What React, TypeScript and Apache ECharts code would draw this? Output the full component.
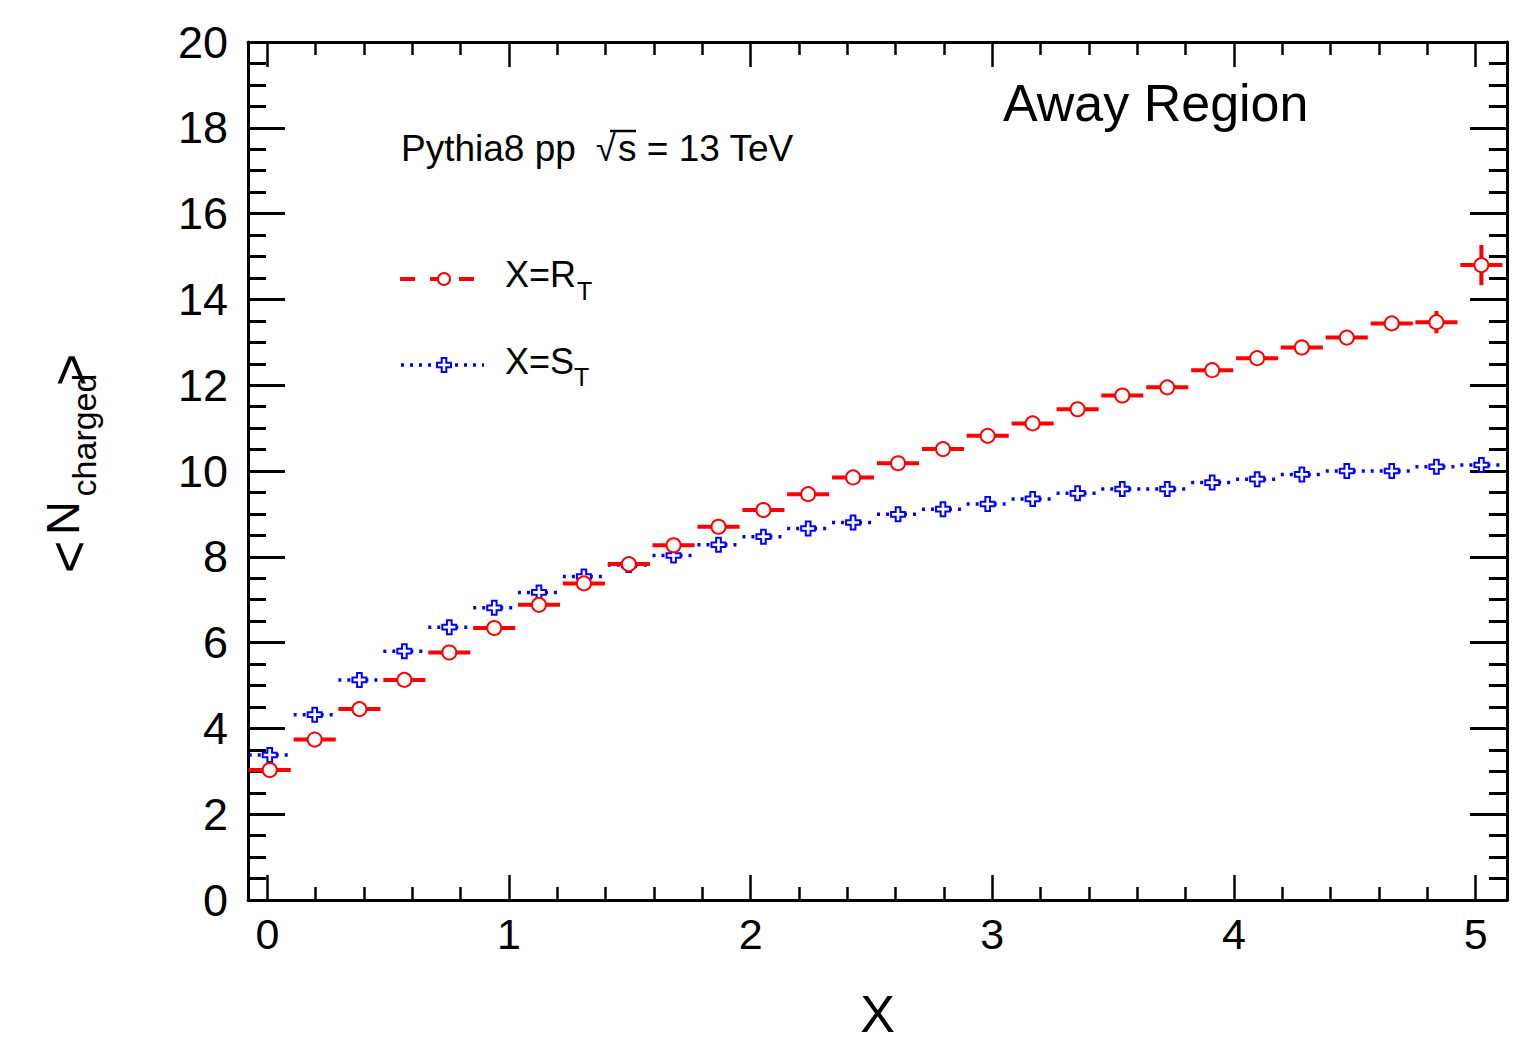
import React, { useEffect, useRef } from "react";
import * as echarts from "echarts";

// ---- data ----
const binCenters = [
  0.010, 0.196, 0.381, 0.567, 0.753, 0.939, 1.124, 1.310, 1.496, 1.681,
  1.867, 2.053, 2.238, 2.424, 2.610, 2.796, 2.981, 3.167, 3.353, 3.538,
  3.724, 3.910, 4.096, 4.281, 4.467, 4.653, 4.838, 5.024,
];
const binHalfWidth = 0.087;
const rtValues = [
  3.03, 3.74, 4.45, 5.13, 5.77, 6.34, 6.88, 7.38, 7.83, 8.27,
  8.70, 9.09, 9.46, 9.85, 10.18, 10.51, 10.82, 11.11, 11.44, 11.76,
  11.95, 12.35, 12.63, 12.88, 13.11, 13.44, 13.47, 14.80,
];
const rtErrors = [
  0.02, 0.02, 0.02, 0.02, 0.02, 0.02, 0.02, 0.02, 0.02, 0.02,
  0.03, 0.03, 0.03, 0.03, 0.03, 0.04, 0.04, 0.04, 0.05, 0.05,
  0.05, 0.06, 0.06, 0.07, 0.08, 0.13, 0.26, 0.47,
];
const stValues = [
  3.38, 4.32, 5.13, 5.80, 6.36, 6.81, 7.17, 7.54, 7.81, 8.03,
  8.28, 8.47, 8.66, 8.80, 8.99, 9.11, 9.23, 9.35, 9.48, 9.58,
  9.58, 9.73, 9.81, 9.92, 10.00, 10.00, 10.10, 10.14,
];
const stErrors = [
  0.01, 0.01, 0.01, 0.01, 0.01, 0.01, 0.01, 0.01, 0.01, 0.01,
  0.01, 0.01, 0.01, 0.01, 0.01, 0.01, 0.01, 0.01, 0.01, 0.01,
  0.01, 0.02, 0.02, 0.02, 0.02, 0.02, 0.03, 0.04,
];
const xMajorTicks = [0, 1, 2, 3, 4, 5];
const xMinorTicks = [
  0.2, 0.4, 0.6, 0.8, 1.2, 1.4, 1.6, 1.8, 2.2, 2.4, 2.6, 2.8,
  3.2, 3.4, 3.6, 3.8, 4.2, 4.4, 4.6, 4.8,
];
const X_MIN = -0.08;
const X_MAX = 5.13;
const Y_MIN = 0;
const Y_MAX = 20;

const FONT = "Liberation Sans, Arial, Helvetica, sans-serif";
const RED = "#ff0000";
const BLUE = "#0000ff";
const CROSS = "path://M4,0 H8 V4 H12 V8 H8 V12 H4 V8 H0 V4 H4 Z";

function errBarSeries(name: string, xs: number[], ys: number[], es: number[], color: string, dash: any, width: number) {
  return {
    type: "custom",
    name,
    clip: true,
    z: 2,
    data: xs.map((x, i) => [x, ys[i], es[i]]),
    renderItem: (params: any, api: any) => {
      const x = api.value(0);
      const y = api.value(1);
      const e = api.value(2);
      const a = api.coord([x - binHalfWidth, y]);
      const b = api.coord([x + binHalfWidth, y]);
      const t = api.coord([x, y + e]);
      const bt = api.coord([x, y - e]);
      return {
        type: "group",
        children: [
          {
            type: "line",
            shape: { x1: a[0], y1: a[1], x2: b[0], y2: b[1] },
            style: { stroke: color, lineWidth: width, lineDash: dash },
          },
          {
            type: "line",
            shape: { x1: t[0], y1: t[1], x2: bt[0], y2: bt[1] },
            style: { stroke: color, lineWidth: 4 },
          },
        ],
      };
    },
  };
}

function xAxisDef(position: string, values: number[], len: number, showLine: boolean, showLabel: boolean, name?: string) {
  return {
    type: "value",
    position,
    min: X_MIN,
    max: X_MAX,
    name: name || "",
    nameLocation: "middle",
    nameGap: 88,
    nameTextStyle: { fontFamily: FONT, fontSize: 52, color: "#000" },
    axisLine: { show: showLine, onZero: false, lineStyle: { color: "#000", width: 3 } },
    axisTick: { show: true, inside: true, length: len, customValues: values, lineStyle: { color: "#000", width: 2.5 } },
    axisLabel: {
      show: showLabel,
      customValues: values,
      fontFamily: FONT,
      fontSize: 43,
      color: "#000",
      margin: 12,
    },
    splitLine: { show: false },
    minorTick: { show: false },
  };
}

function yAxisDef(position: string, showLabel: boolean) {
  return {
    type: "value",
    position,
    min: Y_MIN,
    max: Y_MAX,
    interval: 2,
    axisLine: { show: true, onZero: false, lineStyle: { color: "#000", width: 3 } },
    axisTick: { show: true, inside: true, length: 37, lineStyle: { color: "#000", width: 3 } },
    minorTick: { show: true, splitNumber: 4, length: 18, lineStyle: { color: "#000", width: 3 } },
    axisLabel: { show: showLabel, fontFamily: FONT, fontSize: 45, color: "#000", margin: 20 },
    splitLine: { show: false },
    minorSplitLine: { show: false },
  };
}

export default function App() {
  const ref = useRef<HTMLDivElement>(null);
  useEffect(() => {
    if (!ref.current) return;
    const chart = echarts.init(ref.current, null, { renderer: "svg" });
    const option: any = {
      animation: false,
      backgroundColor: "#fff",
      grid: { left: 248, top: 42, width: 1259, height: 858, containLabel: false },
      xAxis: [
        xAxisDef("bottom", xMajorTicks, 25, true, true, "X"),
        xAxisDef("bottom", xMinorTicks, 13, false, false),
        xAxisDef("top", xMajorTicks, 25, true, false),
        xAxisDef("top", xMinorTicks, 13, false, false),
      ],
      yAxis: [yAxisDef("left", true), yAxisDef("right", false)],
      series: [
        errBarSeries("stbars", binCenters, stValues, stErrors, BLUE, [3, 6], 3.5),
        errBarSeries("rtbars", binCenters, rtValues, rtErrors, RED, null, 4),
        {
          type: "scatter",
          name: "X=S_T",
          z: 3,
          symbol: CROSS,
          symbolSize: 14,
          itemStyle: { color: "#fff", borderColor: BLUE, borderWidth: 2, opacity: 1 },
          data: binCenters.map((x, i) => [x, stValues[i]]),
        },
        {
          type: "scatter",
          name: "X=R_T",
          z: 4,
          symbol: "circle",
          symbolSize: 14,
          itemStyle: { color: "#fff", borderColor: RED, borderWidth: 2, opacity: 1 },
          data: binCenters.map((x, i) => [x, rtValues[i]]),
        },
      ],
      graphic: [
        // annotations
        { type: "text", x: 1003, y: 103, style: { text: "Away Region", fontFamily: FONT, fontSize: 52, fill: "#000", textAlign: "left", textVerticalAlign: "middle" } },
        { type: "text", x: 401, y: 148, style: { text: "Pythia8 pp", fontFamily: FONT, fontSize: 37, fill: "#000", textAlign: "left", textVerticalAlign: "middle" } },
        { type: "text", x: 596, y: 148, style: { text: "\u221A", fontFamily: FONT, fontSize: 36, fill: "#000", textAlign: "left", textVerticalAlign: "middle" } },
        { type: "line", shape: { x1: 610, y1: 131, x2: 636, y2: 131 }, style: { stroke: "#000", lineWidth: 2.5 } },
        { type: "text", x: 618, y: 148, style: { text: "s = 13 TeV", fontFamily: FONT, fontSize: 37, fill: "#000", textAlign: "left", textVerticalAlign: "middle" } },
        // legend: R_T
        { type: "line", shape: { x1: 400, y1: 279, x2: 415, y2: 279 }, style: { stroke: RED, lineWidth: 4 } },
        { type: "line", shape: { x1: 430, y1: 279, x2: 444, y2: 279 }, style: { stroke: RED, lineWidth: 4 } },
        { type: "line", shape: { x1: 459, y1: 279, x2: 474, y2: 279 }, style: { stroke: RED, lineWidth: 4 } },
        { type: "circle", shape: { cx: 444, cy: 279, r: 6 }, style: { fill: "#fff", stroke: RED, lineWidth: 2 } },
        { type: "text", x: 505, y: 274, style: { text: "X=R", fontFamily: FONT, fontSize: 36, fill: "#000", textAlign: "left", textVerticalAlign: "middle" } },
        { type: "text", x: 577, y: 291, style: { text: "T", fontFamily: FONT, fontSize: 25, fill: "#000", textAlign: "left", textVerticalAlign: "middle" } },
        // legend: S_T
        { type: "line", shape: { x1: 401, y1: 365, x2: 484, y2: 365 }, style: { stroke: BLUE, lineWidth: 3.5, lineDash: [3, 6] } },
        {
          type: "polygon",
          shape: {
            points: [
              [441.7, 358], [446.3, 358], [446.3, 362.7], [451, 362.7], [451, 367.3], [446.3, 367.3],
              [446.3, 372], [441.7, 372], [441.7, 367.3], [437, 367.3], [437, 362.7], [441.7, 362.7],
            ],
          },
          style: { fill: "#fff", stroke: BLUE, lineWidth: 2 },
        },
        { type: "text", x: 505, y: 361, style: { text: "X=S", fontFamily: FONT, fontSize: 36, fill: "#000", textAlign: "left", textVerticalAlign: "middle" } },
        { type: "text", x: 574, y: 377, style: { text: "T", fontFamily: FONT, fontSize: 25, fill: "#000", textAlign: "left", textVerticalAlign: "middle" } },
        // y axis title <N_charged>
        { type: "text", x: 68, y: 557, rotation: Math.PI / 2, style: { text: "<", fontFamily: FONT, fontSize: 56, fill: "#000", textAlign: "center", textVerticalAlign: "middle" } },
        { type: "text", x: 62, y: 518, rotation: Math.PI / 2, style: { text: "N", fontFamily: FONT, fontSize: 47, fill: "#000", textAlign: "center", textVerticalAlign: "middle" } },
        { type: "text", x: 84, y: 435, rotation: Math.PI / 2, style: { text: "charged", fontFamily: FONT, fontSize: 34, fill: "#000", textAlign: "center", textVerticalAlign: "middle" } },
        { type: "text", x: 70, y: 370, rotation: Math.PI / 2, style: { text: ">", fontFamily: FONT, fontSize: 56, fill: "#000", textAlign: "center", textVerticalAlign: "middle" } },
      ],
    };
    chart.setOption(option);
    return () => chart.dispose();
  }, []);
  return (
    <div
      ref={ref}
      style={{ position: "fixed", left: 0, top: 0, width: 1527, height: 1045, background: "#fff" }}
    />
  );
}
